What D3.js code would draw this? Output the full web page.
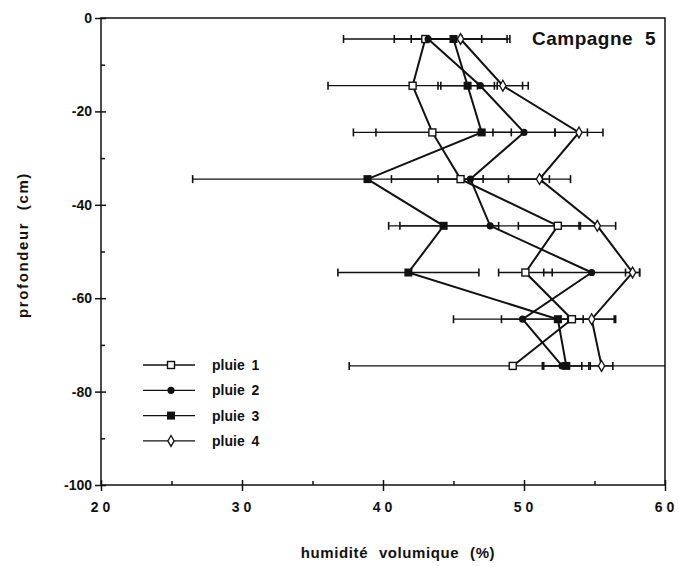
<!DOCTYPE html>
<html>
<head>
<meta charset="utf-8">
<script src="https://cdn.jsdelivr.net/npm/d3@7"></script>
<style>
  body { margin: 0; background: #fff; }
  text { font-family: "Liberation Sans", Arial, sans-serif; font-weight: bold; fill: #111; }
</style>
</head>
<body>
<div id="chart"></div>
<script>
// depth of each measurement (cm)
var depths = [-4.5, -14.5, -24.5, -34.5, -44.5, -54.5, -64.5, -74.5];

// humidité volumique (%) for each rain
var pluie1 = [43.0, 42.1, 43.5, 45.5, 52.4, 50.1, 53.4, 49.2];
var pluie2 = [43.2, 46.9, 50.0, 46.2, 47.6, 54.8, 49.9, 52.7];
var pluie3 = [45.0, 46.0, 47.0, 38.9, 44.3, 41.8, 52.4, 53.0];
var pluie4 = [45.5, 48.5, 53.9, 51.1, 55.2, 57.7, 54.8, 55.5];

// half width of error bars
var err1 = [5.8, 6.0, 5.6, 1.6, 2.8, 1.9, 0.8, 11.6];
var err2 = [2.4, 3.0, 2.2, 5.6, 6.4, 3.4, 4.9, 1.4];
var err3 = [2.0, 1.9, 7.5, 12.4, 3.9, 5.0, 4.0, 1.6];
var err4 = [3.5, 1.8, 1.7, 2.2, 1.3, 0.5, 1.7, 0.8];

var seriesNames = ["pluie 1", "pluie 2", "pluie 3", "pluie 4"];
var seriesSymbols = ["openSquare", "dot", "square", "diamond"];

var xTicks = [20, 30, 40, 50, 60];
var xMinor = [25, 35, 45, 55];
var yTicks = [0, -20, -40, -60, -80, -100];
var yMinor = [-10, -30, -50, -70, -90];

var width = 679, height = 566;
var margin = {top: 18, right: 14, bottom: 81, left: 101};
var w = width - margin.left - margin.right,
    h = height - margin.top - margin.bottom;

var x = d3.scaleLinear().domain([20, 60]).range([0, w]);
var y = d3.scaleLinear().domain([0, -100]).range([0, h]);

var svg = d3.select("#chart").append("svg")
  .attr("width", width)
  .attr("height", height);

var g = svg.append("g")
  .attr("transform", "translate(" + margin.left + "," + margin.top + ")");

g.append("clipPath").attr("id", "plotclip")
  .append("rect").attr("width", w).attr("height", h);

var series = [pluie1, pluie2, pluie3, pluie4].map(function(vals, i) {
  var errs = [err1, err2, err3, err4][i];
  return {
    name: seriesNames[i],
    symbol: seriesSymbols[i],
    points: vals.map(function(v, j) { return {x: v, d: depths[j], e: errs[j]}; })
  };
});

// error bars first, under the lines
var plot = g.append("g").attr("clip-path", "url(#plotclip)");

series.forEach(function(s) {
  var eb = plot.append("g").attr("stroke", "#111").attr("stroke-width", 1.3);
  s.points.forEach(function(p) {
    var x0 = x(p.x - p.e), x1 = x(p.x + p.e), yy = y(p.d);
    eb.append("line").attr("x1", x0).attr("x2", x1).attr("y1", yy).attr("y2", yy);
    [x0, x1].forEach(function(cx) {
      eb.append("line").attr("x1", cx).attr("x2", cx)
        .attr("y1", yy - 4).attr("y2", yy + 4).attr("stroke-width", 1.6);
    });
  });
});

var line = d3.line()
  .x(function(p) { return x(p.x); })
  .y(function(p) { return y(p.d); });

series.forEach(function(s) {
  plot.append("path")
    .datum(s.points)
    .attr("d", line)
    .attr("fill", "none")
    .attr("stroke", "#111")
    .attr("stroke-width", 2);
});

var drawSymbol = function(sel, type, cx, cy) {
  if (type === "openSquare") {
    sel.append("rect").attr("x", cx - 3.5).attr("y", cy - 3.5)
      .attr("width", 7).attr("height", 7)
      .attr("fill", "#fff").attr("stroke", "#111").attr("stroke-width", 1.4);
  } else if (type === "square") {
    sel.append("rect").attr("x", cx - 4).attr("y", cy - 4)
      .attr("width", 8).attr("height", 8).attr("fill", "#111");
  } else if (type === "dot") {
    sel.append("circle").attr("cx", cx).attr("cy", cy).attr("r", 3.6).attr("fill", "#111");
  } else {
    sel.append("path")
      .attr("d", d3.symbol().type(d3.symbolDiamond).size(34)())
      .attr("transform", "translate(" + cx + "," + cy + ")")
      .attr("fill", "#fff").attr("stroke", "#111").attr("stroke-width", 1.3);
  }
};

series.forEach(function(s) {
  var mg = plot.append("g");
  s.points.forEach(function(p) { drawSymbol(mg, s.symbol, x(p.x), y(p.d)); });
});

// frame
g.append("rect").attr("width", w).attr("height", h)
  .attr("fill", "none").attr("stroke", "#111").attr("stroke-width", 1.5);

// axes: major ticks cross the frame, minor ones inside
var styleAxis = function(sel) {
  sel.select(".domain").remove();
  sel.selectAll("line").attr("stroke", "#111").attr("stroke-width", 1.5);
};

g.append("g")
  .call(d3.axisLeft(y).tickValues(yTicks).tickSize(6).tickPadding(3)
    .tickFormat(function(d) { return String(d); }))
  .call(styleAxis)
  .selectAll("text").attr("font-size", 14).style("font-weight", "bold")
  .style("font-family", "'Liberation Sans', Arial, sans-serif");

g.append("g")
  .call(d3.axisRight(y).tickValues(yTicks).tickSize(5).tickFormat(""))
  .call(styleAxis);
g.append("g")
  .call(d3.axisRight(y).tickValues(yMinor).tickSize(4).tickFormat(""))
  .call(styleAxis);

g.append("g")
  .attr("transform", "translate(0," + h + ")")
  .call(d3.axisBottom(x).tickValues(xTicks).tickSize(6).tickPadding(11)
    .tickFormat(function(d) { return String(d); }))
  .call(styleAxis)
  .selectAll("text").attr("font-size", 14)
  .style("letter-spacing", "4px")
  .style("font-family", "'Liberation Sans', Arial, sans-serif")
  .attr("dx", "1px");

g.append("g")
  .attr("transform", "translate(0," + h + ")")
  .call(d3.axisTop(x).tickValues(xTicks).tickSize(5).tickFormat(""))
  .call(styleAxis);
g.append("g")
  .attr("transform", "translate(0," + h + ")")
  .call(d3.axisTop(x).tickValues(xMinor).tickSize(4).tickFormat(""))
  .call(styleAxis);

// titles
svg.append("text")
  .attr("x", 398).attr("y", 558)
  .attr("text-anchor", "middle")
  .attr("font-size", 15)
  .style("letter-spacing", "0.6px")
  .style("word-spacing", "6px")
  .text("humidité volumique (%)");

svg.append("text")
  .attr("transform", "translate(28,245) rotate(-90)")
  .attr("text-anchor", "middle")
  .attr("font-size", 15)
  .style("letter-spacing", "1.6px")
  .style("word-spacing", "6px")
  .text("profondeur (cm)");

svg.append("text")
  .attr("x", 656).attr("y", 45)
  .attr("text-anchor", "end")
  .attr("font-size", 19)
  .style("letter-spacing", "0.5px")
  .style("word-spacing", "6px")
  .text("Campagne 5");

// legend
var legend = svg.append("g").attr("transform", "translate(143,365)");
series.forEach(function(s, i) {
  var row = legend.append("g").attr("transform", "translate(0," + i * 25.3 + ")");
  row.append("line").attr("x1", 0).attr("x2", 52).attr("y1", 0).attr("y2", 0)
    .attr("stroke", "#111").attr("stroke-width", 1.3);
  drawSymbol(row, s.symbol, 28, 0);
  row.append("text").attr("x", 69).attr("y", 5)
    .attr("font-size", 14)
    .style("word-spacing", "3px")
    .text(s.name);
});
</script>
</body>
</html>
